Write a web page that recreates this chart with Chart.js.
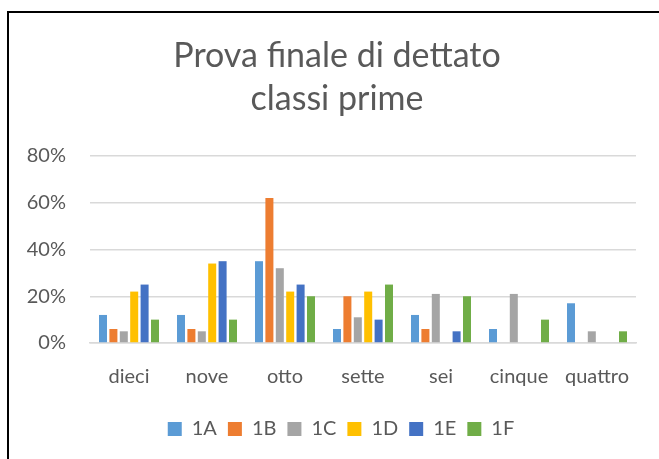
<!DOCTYPE html>
<html>
<head>
<meta charset="utf-8">
<script src="https://cdn.jsdelivr.net/npm/chart.js@4"></script>
<style>
  html, body { margin: 0; padding: 0; background: #fff; overflow: hidden; }
  #frame { position: absolute; left: 7px; top: 11px; width: 800px; height: 600px; border: 2px solid #000; }
  #wrap { position: absolute; left: 0; top: 0; width: 659px; height: 459px; }
</style>
</head>
<body>
<div id="frame"></div>
<div id="wrap"><canvas id="dettatoChart" width="659" height="459"></canvas></div>
<script>
// voti della prova finale, percentuale per classe
const categories = ['dieci', 'nove', 'otto', 'sette', 'sei', 'cinque', 'quattro'];
const classi = ['1A', '1B', '1C', '1D', '1E', '1F'];
const val1A = [12, 12, 35, 6, 12, 6, 17];
const val1B = [6, 6, 62, 20, 6, 0, 0];
const val1C = [5, 5, 32, 11, 21, 21, 5];
const val1D = [22, 34, 22, 22, 0, 0, 0];
const val1E = [25, 35, 25, 10, 5, 0, 0];
const val1F = [10, 10, 20, 25, 20, 10, 5];
const yTicks = [0, 20, 40, 60, 80];

const colors = ['#5B9BD5', '#ED7D31', '#A5A5A5', '#FFC000', '#4472C4', '#70AD47'];
const series = [val1A, val1B, val1C, val1D, val1E, val1F];
const textColor = '#595959';
const font = 'Lato, "Open Sans", sans-serif';

// title and legend sit a bit right of the full box in the original
const shiftBlocks = {
  id: 'shiftBlocks',
  afterLayout(chart) {
    const t = chart.titleBlock, l = chart.legend;
    if (t) { t.left += 14; t.right += 14; }
    if (l) { l.left += 18; l.right += 18; }
  }
};

window.onload = function() {
  const ctx = document.getElementById('dettatoChart').getContext('2d');
  new Chart(ctx, {
    type: 'bar',
    data: {
      labels: categories,
      datasets: series.map((d, i) => ({
        label: classi[i],
        data: d,
        backgroundColor: colors[i],
        borderWidth: 0,
        barPercentage: 0.77,
        categoryPercentage: 0.8
      }))
    },
    plugins: [shiftBlocks],
    options: {
      responsive: false,
      animation: false,
      layout: { padding: { left: 10, right: 23, top: 0, bottom: 10 } },
      plugins: {
        title: {
          display: true,
          text: ['Prova finale di dettato', 'classi prime'],
          color: textColor,
          font: { family: font, size: 34, weight: 'normal', lineHeight: 1.265 },
          padding: { top: 35, bottom: 35 }
        },
        legend: {
          position: 'bottom',
          labels: {
            color: textColor,
            font: { family: font, size: 20 },
            boxWidth: 14,
            boxHeight: 14,
            padding: 11
          }
        },
        tooltip: { enabled: false }
      },
      scales: {
        x: {
          afterFit: s => { s.height += 5; },
          grid: { display: false },
          border: { color: '#d9d9d9', width: 1.5 },
          ticks: { color: textColor, font: { family: font, size: 20 }, padding: 14 }
        },
        y: {
          min: 0,
          max: 80,
          afterFit: s => { s.width = 80; },
          afterBuildTicks: s => { s.ticks = yTicks.map(v => ({ value: v })); },
          border: { display: false },
          grid: { color: '#d9d9d9', lineWidth: 1.5, drawTicks: false },
          ticks: {
            color: textColor,
            font: { family: font, size: 20 },
            padding: 24,
            callback: v => v + '%'
          }
        }
      }
    }
  });
};
</script>
</body>
</html>
